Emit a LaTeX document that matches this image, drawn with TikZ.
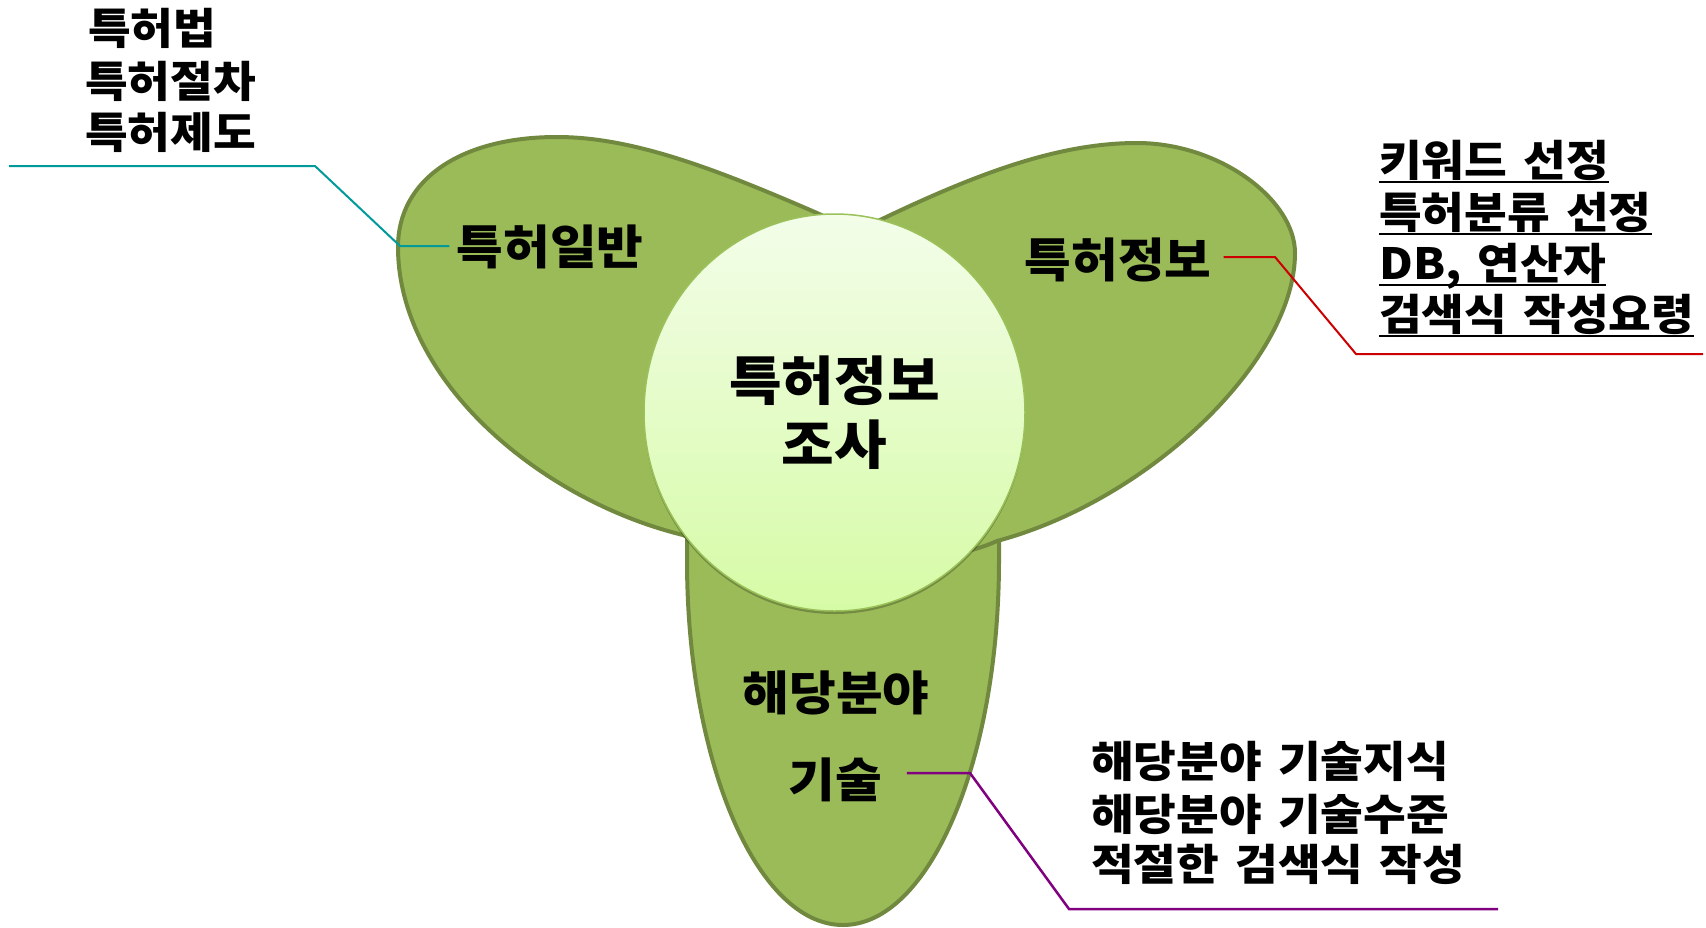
\documentclass[tikz,border=0pt]{standalone}
\usepackage{fontspec}
\setmainfont{Noto Sans CJK KR}[WordSpace=1.5,FakeStretch=1.08]
\usetikzlibrary{shapes.geometric,shadows}
\definecolor{leaf}{HTML}{9BBB59}
\definecolor{leafline}{HTML}{71893F}
\definecolor{ctop}{HTML}{F3FDE9}
\definecolor{cbot}{HTML}{D6FBA6}
\definecolor{cline}{HTML}{9BC15A}
\definecolor{tealline}{HTML}{009A9A}
\definecolor{redline}{HTML}{CC0000}
\definecolor{purpline}{HTML}{800080}
\begin{document}
\begin{tikzpicture}[x=1pt,y=-1pt,
  leafshape/.style={fill=leaf,draw=leafline,line width=4pt,line join=round},
  side/.style={font=\bfseries\fontsize{47}{56}\selectfont,inner sep=0pt},
  listtxt/.style={font=\bfseries\fontsize{43}{50}\selectfont,inner sep=0pt,anchor=base west},
  ul/.style={line width=2.5pt},
  tealc/.style={draw=tealline,line width=2pt},
  redc/.style={draw=redline,line width=2pt},
  purpc/.style={draw=purpline,line width=2.5pt}]
\fill[white] (0,0) rectangle (1706,927);
\useasboundingbox (0,0) rectangle (1706,927);

% leaves
\draw[leafshape] (687,470) -- (687,560) arc[start angle=180,end angle=0,x radius=156,y radius=365] -- (999,470) -- cycle;
\draw[leafshape] (880,220) .. controls (980,172) and (1060,143) .. (1137,143)
  .. controls (1220,143) and (1295,200) .. (1295,253)
  .. controls (1295,360) and (1150,500) .. (997,541)
  .. controls (900,585) and (780,520) .. (775,420)
  .. controls (770,300) and (830,243) .. cycle;
\draw[leafshape] (817,213) .. controls (718,170) and (634,137) .. (557,137)
  .. controls (460,137) and (398,180) .. (398,247)
  .. controls (398,380) and (540,500) .. (683,535)
  .. controls (760,575) and (900,520) .. (900,400)
  .. controls (900,290) and (870,236) .. cycle;

% centre
\node[ellipse,minimum width=381pt,minimum height=397pt,draw=cline,line width=1.5pt,
  top color=ctop,bottom color=cbot,
  drop shadow={shadow xshift=0pt,shadow yshift=-3pt,opacity=0.25,fill=black},
  align=center,inner sep=0pt,font=\bfseries\fontsize{53}{64}\selectfont] (core) at (834.5,412.5) {특허정보\\조사};

% leaf labels
\node[side] (gen) at (550,247) {특허일반};
\node[side] (info) at (1118,259.5) {특허정보};
\node[side] (techa) at (836,692.5) {해당분야};
\node[side] (tech) at (835,779.5) {기술};

% left list
\node[listtxt] (la) at (88,44) {특허법};
\node[listtxt] (lb) at (85,97) {특허절차};
\node[listtxt] (lc) at (85,148) {특허제도};

% right list
\node[listtxt] (ra) at (1379,176) {키워드 선정};
\node[listtxt] (rb) at (1379,228) {특허분류 선정};
\node[listtxt] (rc) at (1379,279) {DB, 연산자};
\node[listtxt] (rd) at (1379,330) {검색식 작성요령};
\foreach \n in {ra,rb,rc,rd}{
  \draw[ul] ([yshift=-6pt]\n.base west) -- ([yshift=-6pt]\n.base east);
}

% bottom right list
\node[listtxt] (ba) at (1091,777) {해당분야 기술지식};
\node[listtxt] (bb) at (1091,830) {해당분야 기술수준};
\node[listtxt] (bc) at (1091,880) {적절한 검색식 작성};

% connectors
\coordinate (t0) at (9,166);
\coordinate (t1) at (315,166);
\coordinate (t2) at (400,246);
\draw[tealc] (t0) -- (t1) -- (t2) -- ([xshift=-7pt]t2 -| gen.west);

\coordinate (r1) at (1275,257);
\coordinate (r2) at (1356,354);
\coordinate (r3) at (1703,354);
\draw[redc] ([xshift=12pt]r1 -| info.east) -- (r1) -- (r2) -- (r3);

\coordinate (p1) at (970,773);
\coordinate (p2) at (1069,909);
\coordinate (p3) at (1498,909);
\draw[purpc] ([xshift=25pt]p1 -| tech.east) -- (p1) -- (p2) -- (p3);
\end{tikzpicture}
\end{document}
